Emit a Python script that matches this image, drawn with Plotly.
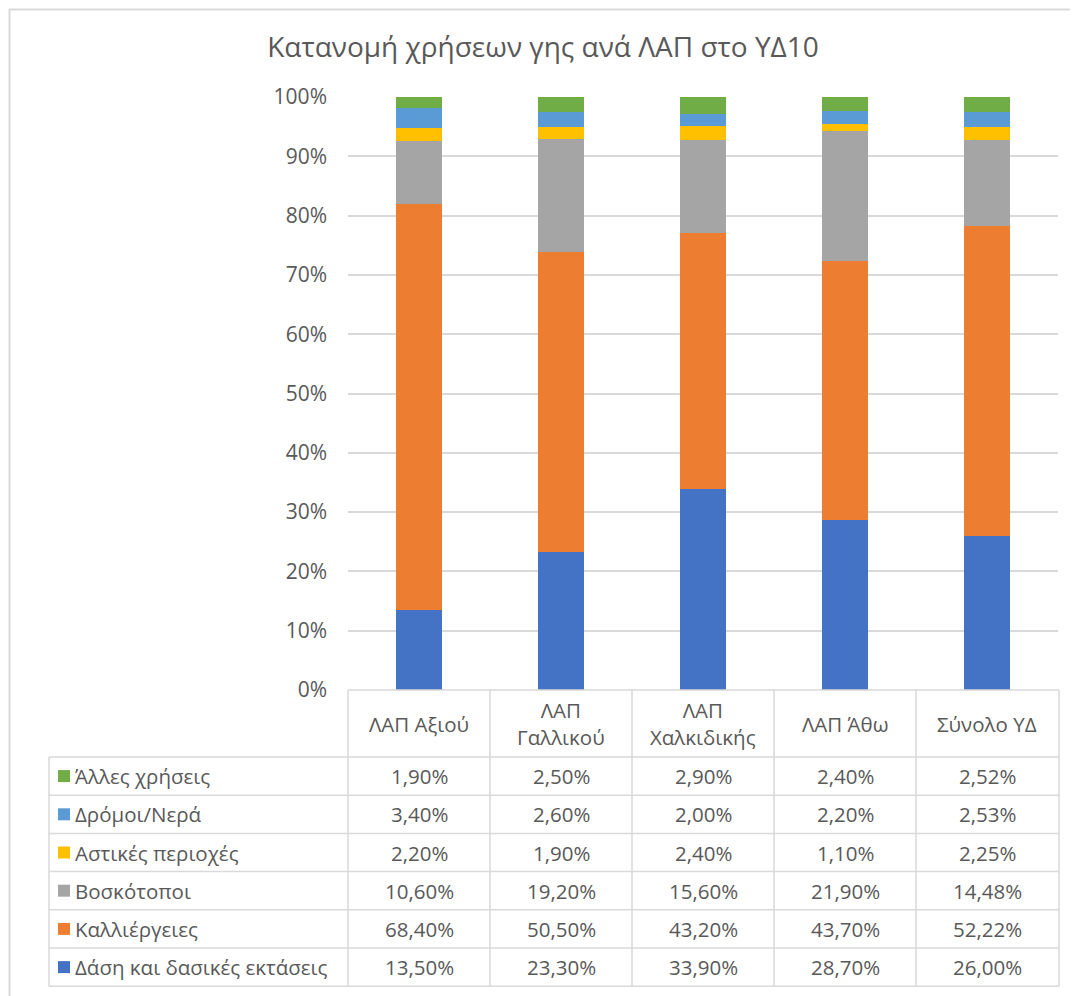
import plotly.graph_objects as go

categories = ["ΛΑΠ Αξιού", "ΛΑΠ Γαλλικού", "ΛΑΠ Χαλκιδικής", "ΛΑΠ Άθω", "Σύνολο ΥΔ"]
header_labels = ["ΛΑΠ Αξιού", "ΛΑΠ<br>Γαλλικού", "ΛΑΠ<br>Χαλκιδικής", "ΛΑΠ Άθω", "Σύνολο ΥΔ"]

forest = [13.50, 23.30, 33.90, 28.70, 26.00]
crops = [68.40, 50.50, 43.20, 43.70, 52.22]
pasture = [10.60, 19.20, 15.60, 21.90, 14.48]
urban = [2.20, 1.90, 2.40, 1.10, 2.25]
roads = [3.40, 2.60, 2.00, 2.20, 2.53]
other = [1.90, 2.50, 2.90, 2.40, 2.52]

y_ticks = list(range(0, 101, 10))

# stacking order, bottom -> top
series = [
    ("Δάση και δασικές εκτάσεις", forest, "#4472C4"),
    ("Καλλιέργειες", crops, "#ED7D31"),
    ("Βοσκότοποι", pasture, "#A5A5A5"),
    ("Αστικές περιοχές", urban, "#FFC000"),
    ("Δρόμοι/Νερά", roads, "#5B9BD5"),
    ("Άλλες χρήσεις", other, "#70AD47"),
]

# the page adds an 8px body margin, so work in shifted pixel coords
OFF = 8
W, H = 1078 - OFF, 996 - OFF
L, T = 348 - OFF, 97 - OFF
PW, PH = 710, 593
R, B = W - L - PW, H - T - PH
FONT = "Open Sans"
TXT = "#595959"
GRID = "#d9d9d9"
FS = 20.5


def px(p):
    # p in reference-image pixels
    return (p - OFF - L) / PW


def py(p):
    return (T + PH - (p - OFF)) / PH


fig = go.Figure()
for name, vals, col in series:
    fig.add_trace(go.Bar(x=categories, y=vals, name=name, marker_color=col,
                         marker_line_width=0, showlegend=False))

shapes = []
ann = []

# outer chart frame (as close to the top-left corner as the page allows)
shapes.append(dict(type="rect", xref="paper", yref="paper", x0=px(9.5), x1=px(1100),
                   y0=py(1020), y1=py(9.5), line=dict(color=GRID, width=2), layer="above"))

# data table geometry (reference pixels)
header_h = 67
row_h = 38.2
tab_left = 49
tab_right = 1059
top = 690
rows_top = top + header_h
n_rows = len(series)
bottom = rows_top + n_rows * row_h
line = dict(color=GRID, width=1.5)

shapes.append(dict(type="line", xref="paper", yref="paper", x0=0, x1=px(tab_right),
                   y0=py(top), y1=py(top), line=line))
for r in range(n_rows + 1):
    yy = rows_top + r * row_h
    shapes.append(dict(type="line", xref="paper", yref="paper", x0=px(tab_left), x1=px(tab_right),
                       y0=py(yy), y1=py(yy), line=line))
shapes.append(dict(type="line", xref="paper", yref="paper", x0=px(tab_left), x1=px(tab_left),
                   y0=py(rows_top), y1=py(bottom), line=line))
for i in range(len(categories) + 1):
    xx = i / len(categories)
    if i == len(categories):
        xx = px(tab_right)
    shapes.append(dict(type="line", xref="paper", yref="paper", x0=xx, x1=xx,
                       y0=py(top), y1=py(bottom), line=line))

# header labels
for c, lab in zip(categories, header_labels):
    ann.append(dict(x=c, xref="x", y=py(top + header_h / 2), yref="paper", text=lab,
                    showarrow=False, xanchor="center", yanchor="middle", align="center",
                    font=dict(family=FONT, size=FS, color=TXT)))

# table rows, top row = last series
for r, (name, vals, col) in enumerate(reversed(series)):
    yc = rows_top + r * row_h + row_h / 2
    shapes.append(dict(type="rect", xref="paper", yref="paper", x0=px(58), x1=px(70),
                       y0=py(yc + 6), y1=py(yc - 6), fillcolor=col, line_width=0))
    ann.append(dict(x=px(73), xref="paper", y=py(yc), yref="paper", text=name,
                    showarrow=False, xanchor="left", yanchor="middle",
                    font=dict(family=FONT, size=FS, color=TXT)))
    for c, v in zip(categories, vals):
        ann.append(dict(x=c, xref="x", y=py(yc), yref="paper",
                        text=f"{v:.2f}%".replace(".", ","), showarrow=False,
                        xanchor="center", yanchor="middle",
                        font=dict(family=FONT, size=FS, color=TXT)))

fig.update_layout(
    width=W, height=H,
    margin=dict(l=L, r=R, t=T, b=B),
    paper_bgcolor="white", plot_bgcolor="white",
    barmode="stack", barnorm="percent", bargap=0.683,
    title=dict(text="Κατανομή χρήσεων γης ανά ΛΑΠ στο ΥΔ10", x=(543 - OFF) / W, xanchor="center",
               y=1 - (47 - OFF) / H, yanchor="middle", yref="container",
               font=dict(family=FONT, size=28, color=TXT)),
    xaxis=dict(range=[-0.5, 4.5], showticklabels=False, showgrid=False, zeroline=False,
               showline=False, ticks=""),
    yaxis=dict(range=[0, 100], tickmode="array", tickvals=y_ticks,
               ticktext=[f"{v}%" for v in y_ticks],
               showgrid=True, gridcolor=GRID, gridwidth=2, zeroline=False, showline=False,
               ticks="", ticklabelstandoff=20,
               tickfont=dict(family=FONT, size=21, color=TXT)),
    shapes=shapes,
    annotations=ann,
)

fig.write_html("out.html")
